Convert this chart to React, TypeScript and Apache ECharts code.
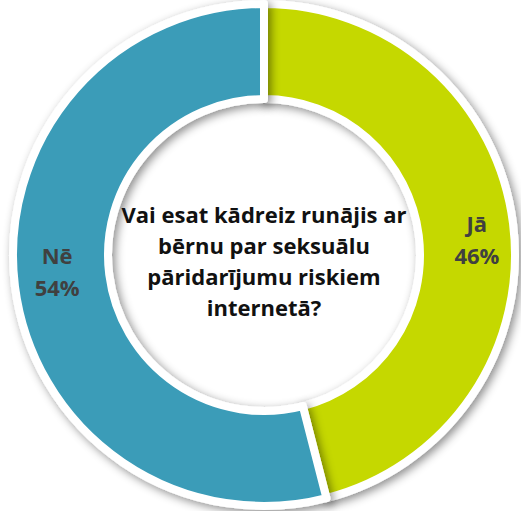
import React, { useEffect, useRef } from "react";
import * as echarts from "echarts";

const categories = ["Jā", "Nē"];
const values = [46, 54];
const colors = ["#C5D800", "#3A9CB8"];
const labelOffsets = [
  [8, 10],
  [-2, -10],
];
const centerLines = [
  "Vai esat kādreiz runājis ar",
  "bērnu par seksuālu",
  "pāridarījumu riskiem",
  "internetā?",
];

export default function App() {
  const ref = useRef<HTMLDivElement>(null);
  useEffect(() => {
    const chart = echarts.init(ref.current!, null, { renderer: "svg" });
    chart.setOption({
      animation: false,
      backgroundColor: "#ffffff",
      graphic: [
        {
          type: "text",
          x: 264,
          y: 260,
          z: 10,
          style: {
            text: centerLines.join("\n"),
            fontFamily: "Open Sans",
            fontWeight: "bold",
            fontSize: 22,
            lineHeight: 31,
            fill: "#111111",
            align: "center",
            verticalAlign: "middle",
          },
        },
      ],
      series: [
        {
          type: "pie",
          center: [264, 255],
          radius: [156, 251],
          startAngle: 90,
          clockwise: true,
          data: categories.map((c, i) => ({
            name: c,
            value: values[i],
            itemStyle: { color: colors[i] },
            label: { offset: labelOffsets[i] },
          })),
          itemStyle: {
            borderColor: "#ffffff",
            borderWidth: 8,
            shadowBlur: 10,
            shadowColor: "rgba(0,0,0,0.45)",
            shadowOffsetX: 3,
            shadowOffsetY: 3,
          },
          label: {
            show: true,
            position: "inside",
            formatter: (p: any) => `${p.name}\n${p.value}%`,
            fontFamily: "Open Sans",
            fontWeight: "bold",
            fontSize: 22,
            lineHeight: 32,
            color: "#404040",
          },
          labelLine: { show: false },
          emphasis: { disabled: true },
        },
      ],
    });
    return () => chart.dispose();
  }, []);
  return (
    <div
      ref={ref}
      style={{ position: "absolute", left: 0, top: 0, width: 521, height: 511 }}
    />
  );
}
